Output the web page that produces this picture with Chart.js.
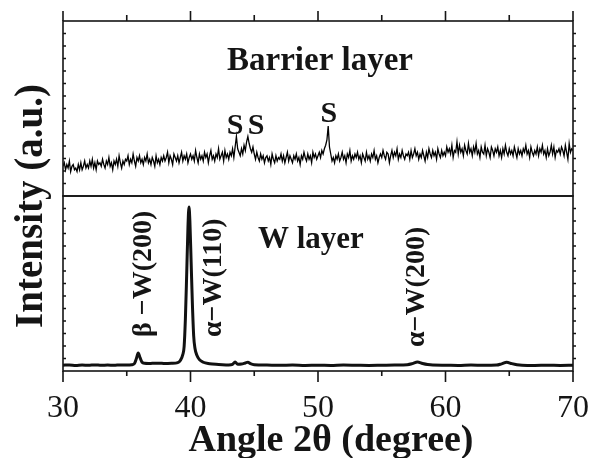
<!DOCTYPE html>
<html>
<head>
<meta charset="utf-8">
<script src="https://cdn.jsdelivr.net/npm/chart.js@4/dist/chart.umd.min.js"></script>
<style>
  html, body { margin: 0; padding: 0; background: #fff; }
</style>
</head>
<body>
<canvas id="xrdCanvas" width="590" height="458"></canvas>
<script>
// barrier layer scan, every 0.1 degree from 30 to 70
const barrierStart = 30;
const barrierStep = 0.1;
const barrierCounts = [
    17,19,15,18,16,20,14,17,18,15,
    16,14,18,15,19,15,17,20,16,18,
    16,20,17,21,16,19,15,20,18,19,
    17,21,18,16,20,18,22,17,19,15,
    20,18,21,17,23,19,16,20,18,21,
    20,23,18,21,19,24,20,17,22,20,
    23,19,21,18,22,20,24,19,21,18,
    22,20,17,23,19,21,18,22,20,23,
    20,22,25,19,23,21,18,24,22,20,
    23,19,22,25,20,23,21,24,19,22,
    24,21,23,20,26,22,19,24,21,23,
    20,25,22,24,19,23,26,21,23,20,
    24,22,27,21,23,25,20,26,22,24,
    21,25,23,27,22,28,34,27,25,23,
    27,24,29,26,31,34,30,27,25,28,
    24,21,25,22,20,24,21,23,19,22,
    23,20,22,18,24,21,19,23,20,22,
    21,24,20,23,19,22,25,20,23,21,
    19,23,21,24,20,22,18,23,21,25,
    22,20,24,21,23,19,25,22,24,21,
    23,25,22,26,24,27,29,32,40,28,
    24,20,22,19,23,21,24,20,22,25,
    21,23,19,24,22,26,20,23,21,24,
    22,25,21,23,19,24,22,20,25,21,
    23,20,24,22,26,21,23,19,22,24,
    22,26,23,21,25,24,19,23,26,22,
    25,23,27,21,24,22,26,23,21,24,
    23,25,21,26,22,24,27,23,25,21,
    24,22,26,23,20,25,22,27,24,22,
    26,23,25,21,27,24,22,26,23,25,
    23,28,25,27,24,29,22,26,25,31,
    24,29,25,27,23,29,26,24,30,25,
    27,23,28,25,30,24,26,22,28,25,
    24,29,23,27,25,22,28,26,23,27,
    25,28,23,26,22,27,24,29,25,23,
    27,24,26,23,28,25,22,27,24,26,
    23,27,25,29,24,26,22,28,25,23,
    26,24,28,23,27,25,29,24,26,22,
    27,23,25,29,24,28,22,26,25,27,
    24,28,26,23,29,25,21,30,25,27,
    26
];

// W layer scan
const wAngles = [30, 30.5, 31, 31.5, 32, 32.5, 33, 33.5, 34, 34.5, 35,
    35.4, 35.6, 35.75, 35.9, 36.05, 36.2, 36.4, 36.7,
    37, 37.5, 38, 38.5, 39,
    39.2, 39.4, 39.5, 39.6, 39.7, 39.8, 39.88, 39.95,
    40.05, 40.15, 40.25, 40.35, 40.5, 40.7,
    41, 41.5, 42, 42.5, 43,
    43.3, 43.5, 43.7, 44, 44.3, 44.5, 44.7,
    45, 46, 47, 48, 49, 50, 51, 52, 53, 54, 55, 56, 57,
    57.4, 57.8, 58.2, 58.6,
    59, 60, 61, 62, 63, 64,
    64.4, 64.8, 65.2, 65.6,
    66, 67, 68, 69, 70];
const wCounts = [3.3, 3.5, 3.2, 3.4, 3.3, 3.5, 3.3, 3.4, 3.3, 3.5, 3.4,
    3.6, 4.2, 7, 10.3, 7.5, 5, 4.4, 4.3,
    4.4, 4.5, 4.3, 4.4, 4.8,
    6.0, 9.5, 14, 30, 55, 82, 93.7, 86,
    62, 38, 20, 13, 9, 6.5,
    5, 4.2, 3.8, 3.6, 3.5,
    3.8, 5.2, 3.9, 4.0, 4.6, 5.0, 4.2,
    3.6, 3.4, 3.3, 3.4, 3.2, 3.3, 3.2, 3.4, 3.3, 3.2, 3.3, 3.4, 3.6,
    4.2, 5.1, 4.3, 3.7,
    3.4, 3.3, 3.2, 3.4, 3.3, 3.4,
    4.1, 5.0, 4.2, 3.6,
    3.3, 3.2, 3.3, 3.2, 3.3];

const angleTicks = [30, 40, 50, 60, 70];
const minorStep = 5;

const xTitle = 'Angle 2\u03b8 (degree)';
const yTitle = 'Intensity (a.u.)';

// peak marks in the barrier panel
const sLabels = [
    {text: 'S', angle: 43.5, level: 40},
    {text: 'S', angle: 45.15, level: 40},
    {text: 'S', angle: 50.85, level: 46.5}
];
// peak names in the W panel, written upwards
const wLabels = [
    {text: '\u03b2 \u2212W(200)', angle: 36.35, level: 19.4},
    {text: '\u03b1\u2212W(110)', angle: 41.85, level: 19.4},
    {text: '\u03b1\u2212W(200)', angle: 57.75, level: 13.7}
];

const SERIF = "'Liberation Serif', 'Times New Roman', serif";
const INK = '#151515';

const panelDecor = {
    id: 'panelDecor',
    afterDatasetsDraw(chart) {
        const ctx = chart.ctx;
        const x = chart.scales.x;
        const top = chart.scales.yBarrier;
        const bot = chart.scales.yW;
        ctx.save();
        ctx.strokeStyle = INK;
        ctx.lineWidth = 1.6;
        [top, bot].forEach(p => ctx.strokeRect(x.left, p.top, x.right - x.left, p.bottom - p.top));

        ctx.beginPath();
        for (let v = angleTicks[0]; v <= angleTicks[angleTicks.length - 1]; v += minorStep) {
            const px = x.getPixelForValue(v);
            const major = angleTicks.includes(v);
            ctx.moveTo(px, top.top);
            ctx.lineTo(px, top.top - (major ? 10 : 6));
            ctx.moveTo(px, bot.bottom);
            ctx.lineTo(px, bot.bottom + (major ? 11 : 5));
        }
        [top, bot].forEach(p => {
            for (let i = 1; i < 14; i++) {
                const py = p.top + (p.bottom - p.top) * i / 14;
                ctx.moveTo(x.left, py);
                ctx.lineTo(x.left + 3, py);
                ctx.moveTo(x.right, py);
                ctx.lineTo(x.right + 3, py);
            }
        });
        ctx.stroke();

        ctx.fillStyle = INK;
        // panel names
        ctx.font = 'bold 33px ' + SERIF;
        ctx.textAlign = 'center';
        ctx.textBaseline = 'alphabetic';
        ctx.fillText('Barrier layer', 320, 70);
        ctx.font = 'bold 31px ' + SERIF;
        ctx.textAlign = 'left';
        ctx.fillText('W layer', 258, 248);

        ctx.font = 'bold 30px ' + SERIF;
        ctx.textAlign = 'center';
        ctx.textBaseline = 'middle';
        sLabels.forEach(l => ctx.fillText(l.text, x.getPixelForValue(l.angle), top.getPixelForValue(l.level)));

        ctx.font = 'bold 28px ' + SERIF;
        wLabels.forEach(l => {
            ctx.save();
            ctx.translate(x.getPixelForValue(l.angle), bot.getPixelForValue(l.level));
            ctx.rotate(-Math.PI / 2);
            ctx.textAlign = 'left';
            ctx.textBaseline = 'middle';
            ctx.fillText(l.text, 0, 0);
            ctx.restore();
        });

        // axis titles
        ctx.font = 'bold 38px ' + SERIF;
        ctx.textAlign = 'center';
        ctx.textBaseline = 'alphabetic';
        ctx.fillText(xTitle, 331, 451);

        ctx.save();
        ctx.translate(42, 206);
        ctx.rotate(-Math.PI / 2);
        ctx.font = 'bold 39px ' + SERIF;
        ctx.fillText(yTitle, 0, 0);
        ctx.restore();

        ctx.restore();
    }
};

const panelAxis = {
    position: 'left',
    stack: 'xrd',
    stackWeight: 1,
    min: 0,
    max: 100,
    ticks: {display: false},
    grid: {display: false},
    border: {display: false},
    afterFit(scale) { scale.width = 63; }
};

new Chart(document.getElementById('xrdCanvas').getContext('2d'), {
    type: 'line',
    data: {
        datasets: [
            {
                label: 'W layer',
                data: wAngles.map((a, i) => ({x: a, y: wCounts[i]})),
                yAxisID: 'yW',
                borderColor: '#111',
                borderWidth: 3,
                cubicInterpolationMode: 'monotone',
                pointRadius: 0
            },
            {
                label: 'Barrier layer',
                data: barrierCounts.map((c, i) => ({x: barrierStart + i * barrierStep, y: c})),
                yAxisID: 'yBarrier',
                borderColor: '#000',
                borderWidth: 1.3,
                tension: 0,
                pointRadius: 0
            }
        ]
    },
    options: {
        responsive: false,
        animation: false,
        devicePixelRatio: 1,
        layout: {padding: {top: 21, right: 17, left: 0, bottom: 0}},
        plugins: {legend: {display: false}, tooltip: {enabled: false}},
        scales: {
            x: {
                type: 'linear',
                position: 'bottom',
                min: 30,
                max: 70,
                afterBuildTicks(scale) { scale.ticks = angleTicks.map(v => ({value: v})); },
                ticks: {
                    color: INK,
                    padding: 10,
                    maxRotation: 0,
                    font: {family: SERIF, size: 32}
                },
                grid: {display: false},
                border: {display: false},
                afterFit(scale) {
                    scale.height = 87;
                    scale.paddingLeft = 0;
                    scale.paddingRight = 0;
                }
            },
            yW: Object.assign({}, panelAxis),
            yBarrier: Object.assign({}, panelAxis)
        }
    },
    plugins: [panelDecor]
});
</script>
</body>
</html>
